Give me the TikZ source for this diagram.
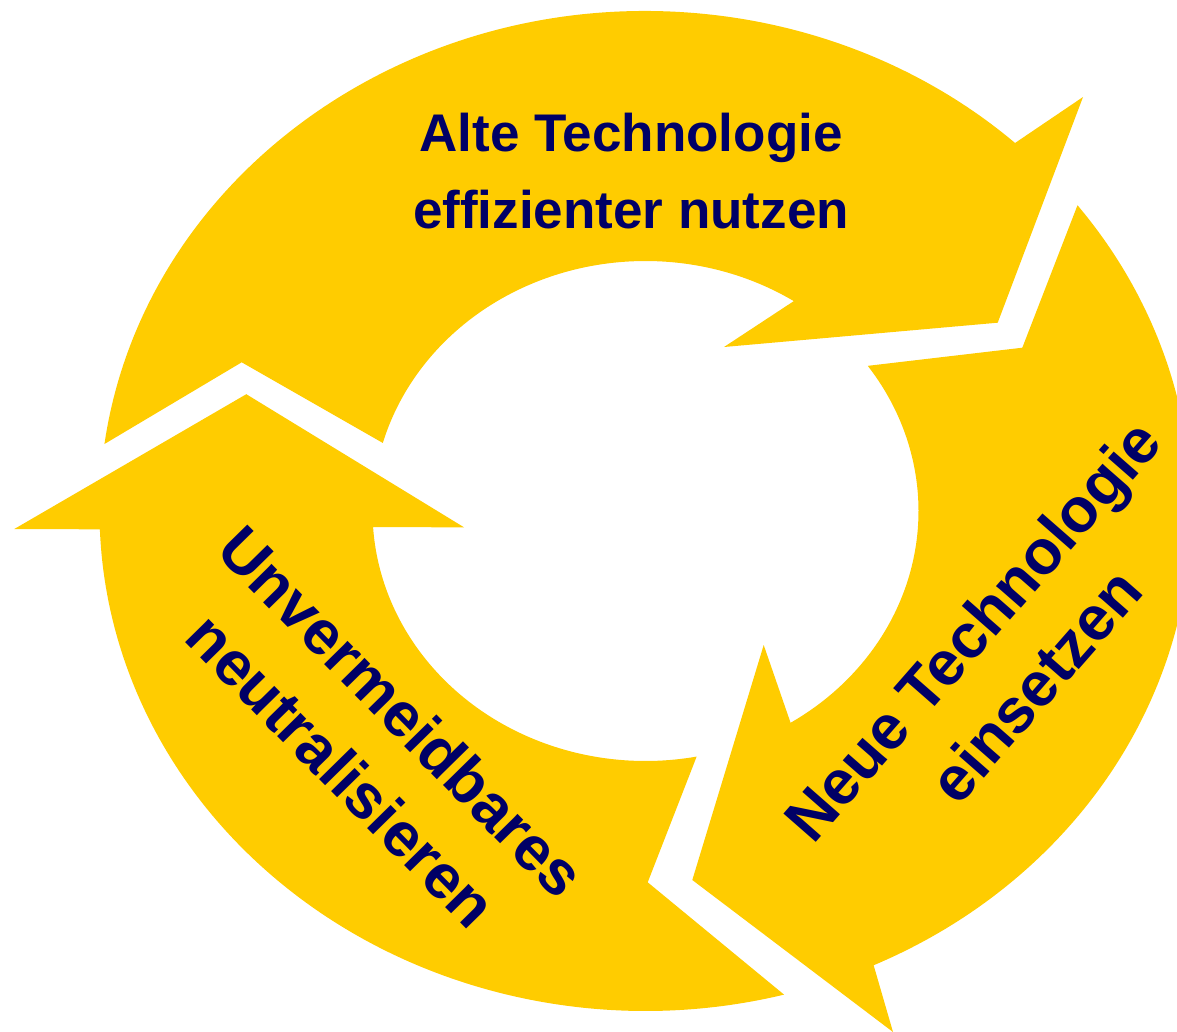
\documentclass[tikz,border=0pt]{standalone}
\usepackage{fontspec}
\setmainfont{Liberation Sans}
\definecolor{arrowyellow}{RGB}{255,204,0}
\definecolor{labelnavy}{RGB}{0,0,102}
\begin{document}
\begin{tikzpicture}[x=1pt,y=1pt,yscale=-1,
  seg/.style={fill=arrowyellow, draw=none},
  toplabel/.style={text=labelnavy, font=\bfseries\fontsize{53}{76.7}\selectfont, align=center, anchor=base, inner sep=0pt},
  sidelabel/.style={text=labelnavy, font=\bfseries\fontsize{62.5}{84}\selectfont, align=center, anchor=base, inner sep=0pt}]
\useasboundingbox (0,0) rectangle (1177,1031);
\clip (0,0) rectangle (1177,1031);
\coordinate (c) at (645.5,511);

% top segment
\path (c) ++(-172.3:546 and 500) coordinate (topOutStart);
\path (c) ++(-57.1:273 and 250) coordinate (topInEnd);
\fill[seg] (topOutStart) arc[start angle=-172.3, end angle=-47.4, x radius=546, y radius=500]
  -- (1083,97) coordinate (topWingOut)
  -- (997.7,322.7) coordinate (topTip)
  -- (724,347) coordinate (topWingIn)
  -- (topInEnd) arc[start angle=-57.1, end angle=-164.2, x radius=273, y radius=250]
  -- (241.7,362.3) coordinate (topNotch) -- cycle;

% right segment
\path (c) ++(-37.7:546 and 500) coordinate (rightOutStart);
\path (c) ++(57.9:273 and 250) coordinate (rightInEnd);
\fill[seg] (rightOutStart) arc[start angle=-37.7, end angle=65.3, x radius=546, y radius=500]
  -- (893,1032) coordinate (rightWingOut)
  -- (692.3,880) coordinate (rightTip)
  -- (763.7,645) coordinate (rightWingIn)
  -- (rightInEnd) arc[start angle=57.9, end angle=-35.5, x radius=273, y radius=250]
  -- (1022.3,347.7) coordinate (rightNotch) -- cycle;

% left segment
\path (c) ++(75.3:546 and 500) coordinate (leftOutStart);
\path (c) ++(176.3:273 and 250) coordinate (leftInEnd);
\fill[seg] (leftOutStart) arc[start angle=75.3, end angle=177.9, x radius=546, y radius=500]
  -- (14.3,529) coordinate (leftWingOut)
  -- (246.3,394.2) coordinate (leftTip)
  -- (464,527.3) coordinate (leftWingIn)
  -- (leftInEnd) arc[start angle=176.3, end angle=79.2, x radius=273, y radius=250]
  -- (647.7,882.3) coordinate (leftNotch) -- cycle;

% labels (base anchor = baseline of the last line)
\node[toplabel] (alte) at (631,228.3) {Alte Technologie\\effizienter nutzen};
\node[sidelabel, rotate=48.8] (neue) at (1052,700) {Neue Technologie\\einsetzen};
\node[sidelabel, rotate=-45.5] (unv) at (326,786) {Unvermeidbares\\neutralisieren};
\end{tikzpicture}
\end{document}
